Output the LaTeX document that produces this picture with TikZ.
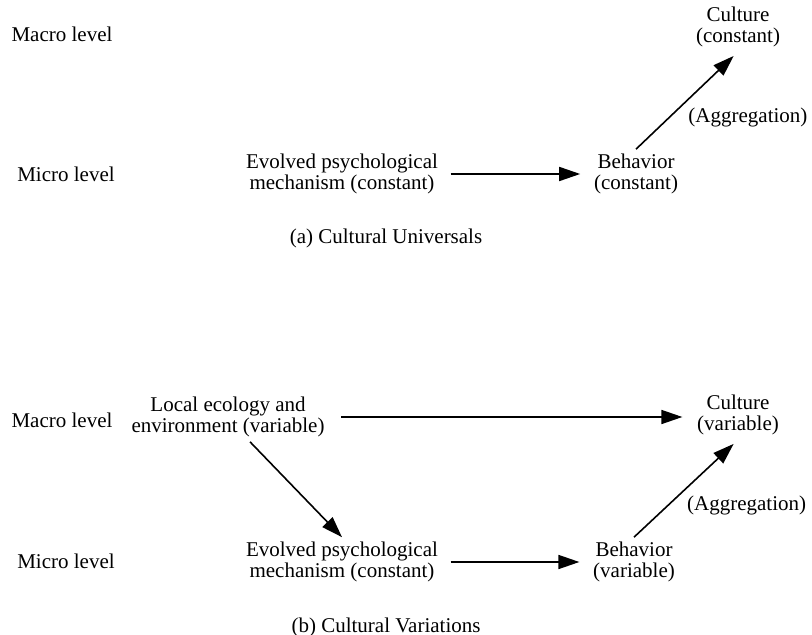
\documentclass[tikz,border=0pt]{standalone}
\usepackage{fontspec}
\setmainfont{Liberation Serif}
\usetikzlibrary{arrows.meta,positioning}

\begin{document}
\begin{tikzpicture}[x=0.5pt,y=-0.5pt,>={Triangle[length=10.5pt,width=7pt]},
 line width=0.8pt,
 every node/.style={align=center,inner sep=2pt,font=\rmfamily\fontsize{10.5}{10.5}\selectfont}]
 \tikzstyle{flow}=[->,shorten <=4pt,shorten >=4.5pt]
 \useasboundingbox (0,0) rectangle (812,635);

 % (a) cultural universals
 \node (macroA) at (62,34)   {Macro level};
 \node (microA) at (66,174)  {Micro level};
 \node (mechA)  at (342,174) {Evolved psychological\\mechanism (constant)};
 \node (behA)   at (636,174) {Behavior\\(constant)};
 \node (cultA)  at (738,27)  {Culture\\(constant)};
 \node (captA)  at (386,238) {(a) Cultural Universals};

 \draw[flow] (mechA.east) -- (behA.west);
 \draw[->,shorten >=3pt] (behA.north) -- node[pos=0.33,right=7pt] {(Aggregation)} (cultA.south);

 % (b) cultural variations
 \node (macroB) at (62,420)  {Macro level};
 \node (microB) at (66,561)  {Micro level};
 \node (ecoB)   at (228,417) {Local ecology and\\environment (variable)};
 \node (mechB)  at (342,562) {Evolved psychological\\mechanism (constant)};
 \node (behB)   at (634,562) {Behavior\\(variable)};
 \node (cultB)  at (738,415) {Culture\\(variable)};
 \node (captB)  at (386,627) {(b) Cultural Variations};

 \draw[flow,shorten <=6pt,shorten >=5pt] (ecoB.east) -- (ecoB.east -| cultB.west);
 \draw[->] ([xshift=11pt]ecoB.south) -- (mechB.north);
 \draw[flow] (mechB.east) -- (behB.west);
 \draw[->,shorten >=3pt] (behB.north) -- node[pos=0.33,right=7pt] {(Aggregation)} (cultB.south);
\end{tikzpicture}
\end{document}
